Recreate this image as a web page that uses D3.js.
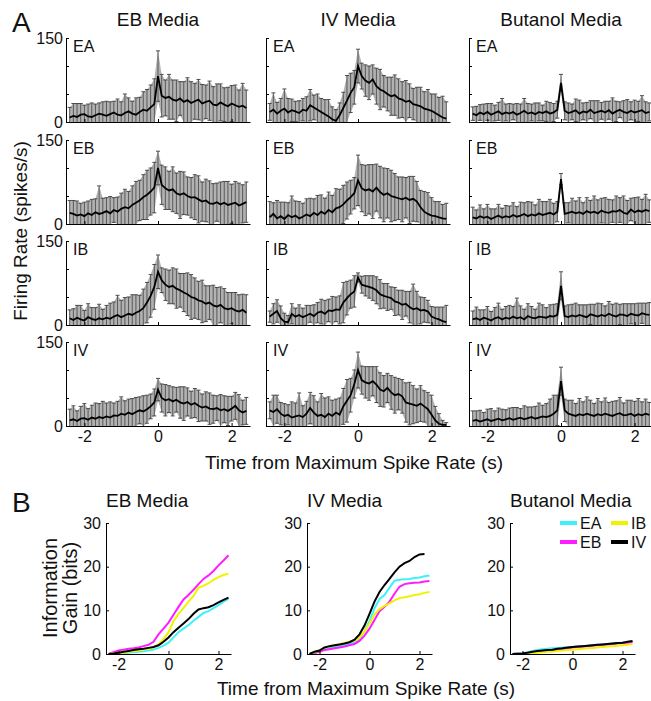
<!DOCTYPE html>
<html lang="en">
<head>
<meta charset="UTF-8">
<title>Firing rate and information gain</title>
<script src="https://d3js.org/d3.v7.min.js"></script>
<style>
  body { margin: 0; background: #fff; }
  svg text { font-family: "Liberation Sans", Arial, sans-serif; fill: #111; }
</style>
</head>
<body>
<svg width="651" height="701"></svg>
<script>
// ---- data ----
var mediaNames = ["EB Media", "IV Media", "Butanol Media"];
var odorNames = ["EA", "EB", "IB", "IV"];

// PSTH bin centres (s)
var binTimes = [-2.4,-2.3,-2.2,-2.1,-2.0,-1.9,-1.8,-1.7,-1.6,-1.5,-1.4,-1.3,-1.2,-1.1,-1.0,-0.9,-0.8,-0.7,-0.6,-0.5,-0.4,-0.3,-0.2,-0.1,
  0,0.1,0.2,0.3,0.4,0.5,0.6,0.7,0.8,0.9,1.0,1.1,1.2,1.3,1.4,1.5,1.6,1.7,1.8,1.9,2.0,2.1,2.2,2.3,2.4];

// mean firing rate and error (spikes/s), EB media
var ebEA_mean = [8,11,9,13,14,10,9,12,15,13, 11,14,17,13,12,16,19,15,13,18, 22,20,26,32, 82, 47,43,45,40,38,42,36,39,34,37, 40,33,36,38,31,30,35,31,28,33, 30,27,29,25];
var ebEA_err  = [18,22,24,20,16,22,25,20,19,23, 26,22,20,28,24,34,24,22,30,26, 32,38,40,45, 45, 38,32,40,35,37,30,36,40,38,32, 36,34,30,35,32,38,33,30,34,32, 36,30,40,32];
var ebEB_mean = [20,18,15,17,14,19,16,21,18,20, 23,19,25,22,27,30,28,34,38,42, 48,52,58,65, 100, 70,64,60,62,55,52,55,50,47,48, 44,40,42,37,36,39,35,38,34,36, 38,33,36,39];
var ebEB_err  = [22,24,26,20,25,22,28,24,50,26, 24,30,22,26,28,32,30,34,38,36, 40,44,42,45, 30, 35,38,34,40,36,42,38,34,36,40, 42,35,38,40,36,34,40,38,42,35, 38,40,34,36];
var ebIB_mean = [12,9,13,10,8,14,11,9,12,10, 13,11,15,18,14,17,20,18,22,25, 30,40,52,68, 95, 80,72,68,70,65,62,58,55,50,48, 44,42,38,40,35,33,36,30,28,30, 26,24,27,22];
var ebIB_err  = [15,20,22,25,18,24,20,22,25,18, 22,28,26,35,30,32,30,36,32,28, 34,36,38,40, 30, 22,28,30,32,35,30,34,38,40,36, 34,38,32,30,36,34,32,35,30,28, 32,30,28,32];
var ebIV_mean = [10,12,9,13,14,11,15,13,16,14, 17,15,19,18,22,20,24,21,25,28, 26,30,35,42, 65, 50,46,48,44,47,42,40,43,38,41, 36,33,35,31,30,32,28,30,27,31, 36,28,24,27];
var ebIV_err  = [20,24,18,22,26,20,22,28,24,30, 24,28,22,26,30,25,24,28,26,24, 28,25,22,24, 20, 25,28,24,26,22,28,30,25,24,26, 28,24,26,28,25,22,28,24,26,22, 24,28,22,24];

// IV media
var ivEA_mean = [18,22,15,20,24,17,21,19,16,22, 20,30,26,22,18,14,10,5,2,12, 25,38,52,62, 100, 82,74,70,76,64,58,55,50,46,48, 42,40,36,38,32,30,28,24,22,20, 16,12,8,6];
var ivEA_err  = [15,30,20,22,35,25,20,18,22,20, 25,28,22,28,24,26,30,22,20,22, 28,45,35,30, 30, 23,28,30,26,32,36,28,30,34,36, 35,32,38,30,28,32,34,30,36,30, 34,32,38,30];
var ivEB_mean = [12,18,10,14,9,16,12,15,10,13, 17,14,20,16,22,18,25,21,28,30, 35,42,48,55, 78, 64,60,62,58,65,57,52,55,50,48, 46,44,47,43,45,40,30,22,18,15, 14,12,10,9];
var ivEB_err  = [28,20,32,25,30,22,38,26,30,24, 28,32,25,35,30,28,32,30,35,32, 34,33,30,28, 45, 42,45,44,48,42,46,48,44,46,42, 38,40,36,42,40,36,30,36,38,32, 26,28,25,28];
var ivIB_mean = [15,20,25,12,6,5,20,15,18,14, 17,20,16,22,24,20,26,25,28,27, 40,48,55,60, 85, 72,70,68,66,62,55,52,50,48,42, 40,36,38,32,28,30,26,27,24,15, 12,10,7,5];
var ivIB_err  = [10,18,20,22,15,12,18,15,18,16, 18,15,20,18,22,24,20,26,22,25, 36,30,25,28, 8, 15,18,20,22,24,26,22,24,20,25, 22,26,22,28,45,30,24,22,20,18, 20,22,25,30];
var ivIV_mean = [28,25,30,22,18,20,15,17,19,16, 22,32,24,18,20,16,22,18,24,20, 35,45,55,75, 100, 82,78,76,80,74,65,62,68,60,55, 57,53,42,40,38,36,40,35,30,20, 10,4,2,2];
var ivIV_err  = [15,30,25,20,22,18,28,24,40,20, 22,28,30,25,38,34,30,28,24,30, 32,38,30,25, 32, 25,28,30,26,32,30,28,26,30,32, 28,30,35,38,34,30,32,28,30,35, 25,18,8,4];

// Butanol media
var buEA_mean = [15,12,17,14,18,13,16,19,14,17, 15,18,13,16,20,15,17,14,18,16, 19,15,17,22, 70, 20,16,18,21,15,19,17,22,16,18, 20,17,21,15,19,22,18,16,20,17, 19,21,16,18];
var buEA_err  = [12,16,14,18,15,20,14,16,28,15, 18,14,20,16,22,18,15,20,16,14, 18,20,16,15, 15, 16,18,14,20,24,15,18,16,22,20, 15,20,16,28,18,14,20,24,16,22, 18,26,20,16];
var buEB_mean = [12,10,14,11,13,9,12,15,11,14, 12,16,13,15,18,14,17,15,19,16, 18,20,17,22, 80, 18,20,22,19,21,18,23,20,22,19, 24,21,20,23,22,25,20,18,26,21, 24,22,25,23];
var buEB_err  = [18,15,20,16,22,18,15,20,17,19, 20,22,18,24,20,26,22,19,25,24, 22,24,20,18, 10, 20,18,24,22,26,20,24,22,28,24, 22,26,24,20,28,22,30,24,20,26, 24,22,28,20];
var buIB_mean = [10,12,9,13,11,8,12,14,10,13, 11,15,12,14,10,16,13,12,15,14, 13,16,15,18, 70, 16,14,17,15,18,16,14,19,17,15, 18,16,20,17,15,19,18,16,20,18, 17,21,19,18];
var buIB_err  = [15,20,18,14,22,16,19,25,18,20, 24,18,36,20,18,22,20,16,24,22, 18,20,22,20, 25, 18,22,20,24,18,20,22,18,20,24, 20,18,22,20,24,18,20,22,18,20, 22,18,20,22];
var buIV_mean = [9,11,8,10,12,9,11,13,10,12, 14,11,13,15,12,14,16,13,15,17, 16,18,22,28, 80, 28,22,20,18,21,19,22,20,18,21, 19,22,20,18,21,23,19,20,22,18, 21,19,22,20];
var buIV_err  = [18,16,20,14,18,22,16,19,20,17, 18,22,20,16,24,20,18,22,26,20, 24,30,33,27, 25, 20,24,26,22,28,24,30,26,22,28, 24,28,22,26,24,28,22,26,24,26, 28,24,26,22];

// information gain (bits)
var gainTimes = [-2.4,-2.2,-2.0,-1.8,-1.6,-1.4,-1.2,-1.0,-0.8,-0.6,-0.4,-0.2,0,0.2,0.4,0.6,0.8,1.0,1.2,1.4,1.6,1.8,2.0,2.2,2.4];
var ebGainEA = [0,0,0.1,0.2,0.3,0.4,0.5,0.6,0.8,1.0,1.4,1.9,2.6,3.8,5.0,5.8,6.6,7.6,8.5,9.4,9.8,10.5,11.2,12.0,12.6];
var ebGainEB = [0,0.4,0.8,1.0,1.2,1.3,1.5,1.8,2.1,2.8,4.5,5.8,7.2,9.0,10.8,12.5,13.5,14.7,16.0,17.2,18.0,19.0,20.3,21.4,22.6];
var ebGainIB = [0,0.1,0.2,0.3,0.5,0.6,0.8,1.0,1.2,1.5,2.2,3.4,5.0,7.5,9.2,10.5,12.0,13.3,15.2,15.6,16.2,17.0,17.6,18.1,18.4];
var ebGainIV = [0,0.1,0.3,0.5,0.7,0.9,1.1,1.2,1.4,1.6,2.0,2.8,3.8,5.0,6.0,7.0,8.0,9.2,10.2,10.5,10.7,11.2,11.8,12.4,12.9];
var ivGainEA = [0,0.3,0.6,1.1,1.4,1.6,1.8,2.0,2.3,2.7,3.5,5.2,7.6,10.5,12.6,13.5,15.2,16.8,17.0,17.1,17.2,17.4,17.5,17.8,18.0];
var ivGainEB = [0,0.2,0.5,0.9,1.1,1.3,1.5,1.7,2.0,2.3,3.0,4.2,5.8,7.8,9.8,10.8,12.0,13.8,15.4,16.0,16.2,16.3,16.4,16.6,16.7];
var ivGainIB = [0,0.4,0.9,1.4,1.8,2.0,2.2,2.5,2.8,3.0,3.8,5.2,7.0,9.0,10.3,11.0,11.6,12.3,12.8,13.0,13.2,13.5,13.7,14.0,14.2];
var ivGainIV = [0,0.5,0.8,1.5,1.8,2.0,2.2,2.4,2.7,3.3,4.5,6.5,9.2,12.0,14.2,15.8,17.2,18.7,20.0,20.8,21.3,22.2,22.8,22.9,null];
var buGainEA = [0,0.1,0.2,0.4,0.7,0.9,1.1,1.2,1.3,1.4,1.5,1.5,1.6,1.7,1.8,1.9,2.0,2.1,2.2,2.3,2.4,2.5,2.6,2.7,2.8];
var buGainEB = [0,0.05,0.1,0.2,0.4,0.6,0.7,0.8,0.9,1.0,1.1,1.3,1.5,1.6,1.7,1.8,1.9,2.0,2.1,2.2,2.3,2.4,2.5,2.6,2.7];
var buGainIB = [0,0,0.05,0.1,0.2,0.3,0.4,0.5,0.6,0.7,0.8,0.9,1.0,1.1,1.2,1.3,1.4,1.5,1.6,1.7,1.8,1.9,2.0,2.1,2.3];
var buGainIV = [0,0.05,0.1,0.3,0.5,0.7,0.8,0.9,1.0,1.2,1.3,1.5,1.6,1.7,1.8,1.9,2.0,2.1,2.2,2.3,2.4,2.5,2.6,2.8,3.0];

var odorColors = ["#3ef0fa", "#ff1cff", "#f2f200", "#000000"];

// ---- layout ----
var svg = d3.select("svg");
var font = "Liberation Sans, Arial, sans-serif";
var minus = d => d < 0 ? "-" + Math.abs(d) : String(d);

// rates[column][row] = [mean, err]
var rates = [
  [[ebEA_mean, ebEA_err], [ebEB_mean, ebEB_err], [ebIB_mean, ebIB_err], [ebIV_mean, ebIV_err]],
  [[ivEA_mean, ivEA_err], [ivEB_mean, ivEB_err], [ivIB_mean, ivIB_err], [ivIV_mean, ivIV_err]],
  [[buEA_mean, buEA_err], [buEB_mean, buEB_err], [buIB_mean, buIB_err], [buIV_mean, buIV_err]]
];

var colLeft = [66, 266, 469], rowTop = [38, 140, 241, 342];
var panelW = 184, panelH = 84;
var x = d3.scaleLinear().domain([-2.5, 2.5]).range([0, panelW]);
var y = d3.scaleLinear().domain([0, 150]).range([panelH, 0]);

rates.forEach(function(col, c) {
  col.forEach(function(pair, r) {
    var mean = pair[0], err = pair[1];
    var pts = binTimes.map((t, i) => ({ t: t, m: mean[i], lo: Math.max(0, mean[i] - err[i]), hi: mean[i] + err[i] }));
    var g = svg.append("g").attr("transform", `translate(${colLeft[c]},${rowTop[r]})`);

    // grey band behind the error bars
    g.append("path").datum(pts)
      .attr("d", d3.area().x(d => x(d.t)).y0(d => y(d.lo)).y1(d => y(d.hi)))
      .attr("fill", "#b2b2b2");

    g.selectAll(".bar").data(pts).join("line")
      .attr("x1", d => x(d.t)).attr("x2", d => x(d.t))
      .attr("y1", d => y(d.lo)).attr("y2", d => y(d.hi))
      .attr("stroke", "#595959").attr("stroke-width", 1);
    g.selectAll(".cap").data(pts).join("line")
      .attr("x1", d => x(d.t) - 2).attr("x2", d => x(d.t) + 2)
      .attr("y1", d => y(d.hi)).attr("y2", d => y(d.hi))
      .attr("stroke", "#4a4a4a").attr("stroke-width", 1);
    g.selectAll(".capLo").data(pts.filter(d => d.lo > 0)).join("line")
      .attr("x1", d => x(d.t) - 2).attr("x2", d => x(d.t) + 2)
      .attr("y1", d => y(d.lo)).attr("y2", d => y(d.lo))
      .attr("stroke", "#4a4a4a").attr("stroke-width", 1);

    g.append("path").datum(pts)
      .attr("d", d3.line().x(d => x(d.t)).y(d => y(d.m)))
      .attr("fill", "none").attr("stroke", "#000").attr("stroke-width", 1.8);

    var ya = g.append("g").call(d3.axisLeft(y).tickValues([0, 50, 100, 150])
      .tickSize(-3).tickSizeOuter(0).tickPadding(3)
      .tickFormat(d => (c === 0 && (d === 0 || d === 150)) ? d : ""));
    var xa = g.append("g").attr("transform", `translate(0,${panelH})`)
      .call(d3.axisBottom(x).tickValues([-2, 0, 2])
      .tickSize(-3).tickSizeOuter(0).tickPadding(5)
      .tickFormat(d => r === 3 ? minus(d) : ""));
    [ya, xa].forEach(a => a.attr("font-size", 16).attr("font-family", font));

    g.append("text").attr("x", 7).attr("y", 14)
      .attr("font-size", 16).text(odorNames[r]);
  });

  svg.append("text").attr("x", colLeft[c] + panelW / 2).attr("y", 26)
    .attr("text-anchor", "middle").attr("font-size", 19).text(mediaNames[c]);
});

svg.append("text").attr("x", 12).attr("y", 32).attr("font-size", 28).text("A");
svg.append("text").attr("transform", "translate(27,231) rotate(-90)")
  .attr("text-anchor", "middle").attr("font-size", 19).text("Firing Rate (spikes/s)");
svg.append("text").attr("x", 354).attr("y", 469)
  .attr("text-anchor", "middle").attr("font-size", 19).text("Time from Maximum Spike Rate (s)");

// ---- panel B ----
var gains = [
  [ebGainEA, ebGainEB, ebGainIB, ebGainIV],
  [ivGainEA, ivGainEB, ivGainIB, ivGainIV],
  [buGainEA, buGainEB, buGainIB, buGainIV]
];
var bLeft = [106, 307, 510], bTop = 523, bW = 125, bH = 131;
var xb = d3.scaleLinear().domain([-2.5, 2.5]).range([0, bW]);
var yb = d3.scaleLinear().domain([0, 30]).range([bH, 0]);

gains.forEach(function(set, c) {
  var g = svg.append("g").attr("transform", `translate(${bLeft[c]},${bTop})`);
  set.forEach(function(vals, k) {
    g.append("path").datum(vals)
      .attr("d", d3.line().defined(v => v !== null).x((v, i) => xb(gainTimes[i])).y(v => yb(v)))
      .attr("fill", "none").attr("stroke", odorColors[k]).attr("stroke-width", 2);
  });
  var ya = g.append("g").call(d3.axisLeft(yb).tickValues([0, 10, 20, 30])
    .tickSize(-3).tickSizeOuter(0).tickPadding(5));
  var xa = g.append("g").attr("transform", `translate(0,${bH})`)
    .call(d3.axisBottom(xb).tickValues([-2, 0, 2])
    .tickSize(-3).tickSizeOuter(0).tickPadding(5).tickFormat(minus));
  [ya, xa].forEach(a => a.attr("font-size", 16).attr("font-family", font));

  svg.append("text").attr("x", bLeft[c]).attr("y", 507)
    .attr("font-size", 19).text(mediaNames[c]);
});

// legend in the butanol plot
var legendPos = [[560, 523], [560, 542], [611, 523], [611, 542]];
odorNames.forEach(function(name, k) {
  var p = legendPos[k];
  svg.append("line").attr("x1", p[0]).attr("x2", p[0] + 17).attr("y1", p[1]).attr("y2", p[1])
    .attr("stroke", odorColors[k]).attr("stroke-width", 4);
  svg.append("text").attr("x", p[0] + 20).attr("y", p[1] + 6).attr("font-size", 16).text(name);
});

svg.append("text").attr("x", 12).attr("y", 512).attr("font-size", 28).text("B");
svg.append("text").attr("transform", "translate(57,588) rotate(-90)")
  .attr("text-anchor", "middle").attr("font-size", 20).text("Information");
svg.append("text").attr("transform", "translate(77,588) rotate(-90)")
  .attr("text-anchor", "middle").attr("font-size", 20).text("Gain (bits)");
svg.append("text").attr("x", 366).attr("y", 695)
  .attr("text-anchor", "middle").attr("font-size", 19).text("Time from Maximum Spike Rate (s)");
</script>
</body>
</html>
